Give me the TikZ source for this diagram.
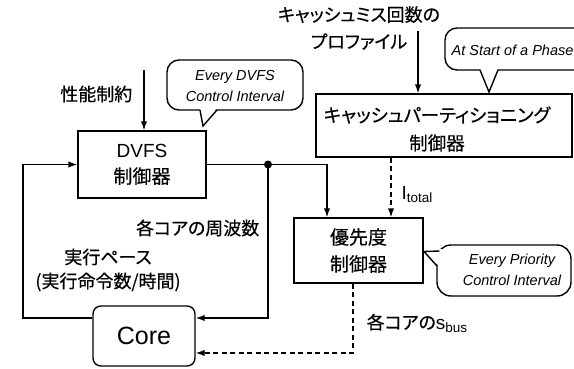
\documentclass[tikz,border=0pt]{standalone}
\usepackage{fontspec}
\setmainfont{Liberation Sans}
\newfontfamily\jp[RawFeature={+palt}, FakeBold=0.4]{Noto Sans CJK JP}
\usetikzlibrary{arrows.meta}
\begin{document}
\begin{tikzpicture}[x=1pt,y=-1pt, line width=1.4pt,
  >={Latex[length=9pt,width=6.5pt]},
  box/.style={draw, rectangle, inner sep=0pt, align=center},
  lbl/.style={inner sep=0pt, font=\jp\fontsize{18}{24}\selectfont},
  bubtxt/.style={inner sep=0pt, align=center, font=\itshape\fontsize{14.5}{21}\selectfont},
  bubble/.style={draw, fill=white, rounded corners=12pt},
  dsh/.style={dash pattern=on 5pt off 3.5pt}]
\useasboundingbox (0,0) rectangle (574,368);

% boxes
\node[box, minimum width=128pt, minimum height=67pt, font=\fontsize{19}{26}\selectfont] (dvfs) at (142,164.5) {DVFS\\\jp 制御器};
\node[box, minimum width=256pt, minimum height=63pt] (cache) at (444,125.5) {};
\node[inner sep=0pt, align=center, font=\jp\fontsize{18.5}{28}\selectfont] (cachetxt) at (437,129) {キャッシュパーティショニング\\制御器};
\node[box, minimum width=129pt, minimum height=65pt, font=\jp\fontsize{19}{27}\selectfont] (prio) at (358.5,250.5) {優先度\\制御器};
\node[box, rounded corners=8pt, minimum width=102pt, minimum height=60pt, font=\fontsize{25}{25}\selectfont] (core) at (144,336) {Core};

% labels
\node[lbl, anchor=east] (perf) at (133,94) {性能制約};
\node[lbl, align=center, font=\jp\fontsize{18}{27}\selectfont] (miss) at (359,28) {キャッシュミス回数の\\プロファイル};
\node[lbl, anchor=east] (freq) at (260,228) {各コアの周波数};
\node[lbl, align=center, font=\jp\fontsize{18}{24}\selectfont] (pace) at (108,270) {実行ペース\\(実行命令数/時間)};
\node[inner sep=0pt, anchor=west, font=\fontsize{19}{19}\selectfont] (itot) at (401,195) {I\raisebox{-0.3ex}{\fontsize{13.5}{13.5}\selectfont total}};
\node[lbl, anchor=west] (sbus) at (366,323) {各コアの{\fontfamily{\rmdefault}\selectfont\fontsize{19}{19}\selectfont s}\raisebox{-0.3ex}{\fontfamily{\rmdefault}\fontsize{13.5}{13.5}\selectfont bus}};

% coordinates
\coordinate (j) at (268,164.5);
\coordinate (p1) at (327,164.5);
\coordinate (fb) at (23,164.5);
\coordinate (perftop) at (144,70);
\coordinate (misstop) at (418,31);
\coordinate (cx) at (391,0);
\coordinate (px) at (353,0);

% connectors
\draw[->] (perftop) -- (perftop |- dvfs.north);
\draw[->] (misstop) -- (misstop |- cache.north);
\draw (dvfs.east) -- (j);
\draw[->] (j) -- (p1) -- (p1 |- prio.north);
\fill (j) circle (4pt);
\draw[->] (j) |- ([yshift=18pt]core.east);
\draw[->] ([yshift=18pt]core.west) -| (fb) -- (dvfs.west);
\draw[->, dsh] (cache.south -| cx) -- (prio.north -| cx);
\draw[->, dsh] (prio.south -| px) |- ([yshift=-17pt]core.east);

% callout: DVFS
\draw[bubble] (167,60) rectangle (303,110);
\fill[white] (203,126) -- (199.5,107) -- (217.5,107) -- cycle;
\draw[line join=miter] (200,110) -- (203,126) -- (217,110);
\node[bubtxt] (cb1) at (235,86) {Every DVFS\\Control Interval};

% callout: phase
\draw[bubble] (445,28) rectangle (600,70);
\fill[white] (489,92) -- (479.5,67) -- (498.5,67) -- cycle;
\draw[line join=miter] (480,70) -- (489,92) -- (498,70);
\node[bubtxt, anchor=west] (cb2) at (451,50) {At Start of a Phase};

% callout: priority
\draw[bubble, rounded corners=14pt] (437,245) rectangle (571,296);
\fill[white] (424,251.5) -- (442,249) -- (441,268) -- cycle;
\draw[line join=miter] (439.5,251) -- (424,251.5) -- (437,266);
\node[bubtxt] (cb3) at (512,270) {Every Priority\\Control Interval};
\end{tikzpicture}
\end{document}
